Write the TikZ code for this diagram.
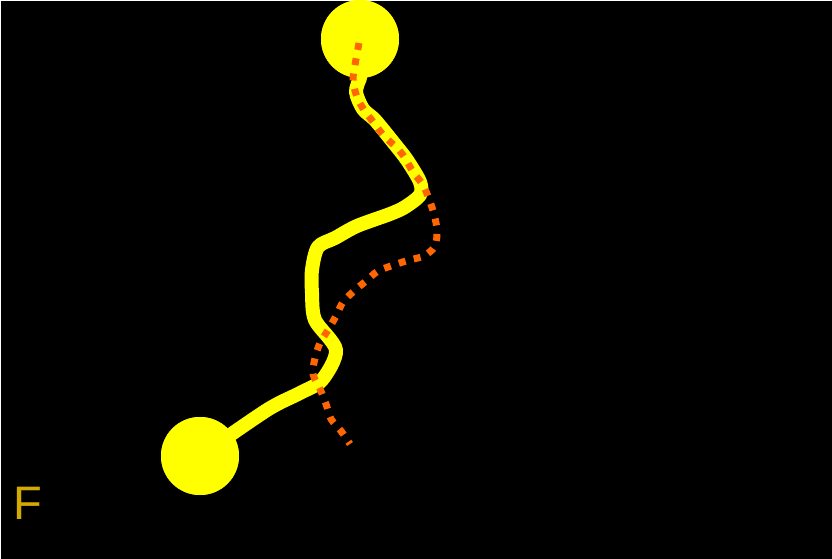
\documentclass[tikz,border=0pt]{standalone}
\usepackage{fontspec}
\setmainfont{Liberation Sans}
\usetikzlibrary{arrows.meta}
\definecolor{ylw}{RGB}{255,255,0}
\definecolor{org}{RGB}{255,102,0}
\definecolor{gold}{RGB}{212,170,0}
\begin{document}
\begin{tikzpicture}[x=1pt,y=-1pt,
 ball/.style={circle,fill=ylw,minimum size=78pt,inner sep=0pt},
 cord/.style={draw=ylw,line width=14pt,line cap=round,line join=round},
 trail/.style={draw=org,line width=7pt,dash pattern=on 7pt off 8.5pt},
 lbl/.style={text=gold,font=\fontsize{47}{47}\selectfont,inner sep=0pt,anchor=base west}]
\fill[white] (0,0) rectangle (832,559);
\fill[black] (1,1) rectangle (832,559);
\useasboundingbox (0,0) rectangle (832,559);
\node[ball] (top) at (360,39) {};
\node[ball] (bot) at (200,456) {};
\draw[cord] plot[smooth,tension=0.5] coordinates {(top.south) (356,92) (363,109) (375,120) (393,142) (407,160) (420,182) (420,195) (405,207) (390,214) (357,226) (335,238) (318,247) (312,270) (312,293) (315,320) (336,350) (322,380) (300,393) (267,410) (bot.center)};
\node[ball] at (top) {};
\node[ball] at (bot) {};
\coordinate (s) at (359,43);
\coordinate (e) at (350,444);
\draw[trail] plot[smooth,tension=0.5] coordinates {(s) (355,65) (353,81) (357,97) (364,110) (374,123) (384,136) (397,148) (405,158) (413,172) (423,185) (429,199) (434,214) (437,230) (435,246) (424,256) (409,260) (394,265) (378,271) (366,281) (354,291) (343,302) (336,316) (328,330) (320,343) (315,358) (313,374) (320,389) (326,404) (331,419) (341,431) (e)};
\node[lbl] (f) at (13,519) {F};
\end{tikzpicture}
\end{document}
